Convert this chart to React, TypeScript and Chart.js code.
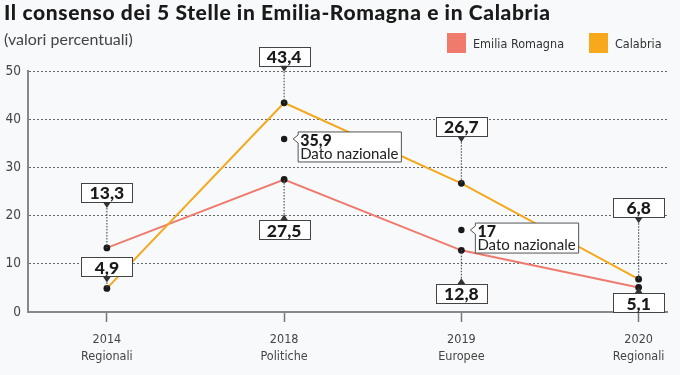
import React, { useEffect, useRef } from 'react';
import { Chart, registerables } from 'chart.js';

Chart.register(...registerables);

// ---- data ----
const years = ['2014', '2018', '2019', '2020'];
const electionTypes = ['Regionali', 'Politiche', 'Europee', 'Regionali'];
const emiliaRomagna = [13.3, 27.5, 12.8, 5.1];
const calabria = [4.9, 43.4, 26.7, 6.8];
const nationalYears = ['2018', '2019'];
const nationalValues = [35.9, 17];
const yTicks = [0, 10, 20, 30, 40, 50];

// ---- label layout (styling only) ----
const emiliaLabelSide = ['above', 'below', 'below', 'below'];
const emiliaLabelGap = [46, 41, 34, 6];
const calabriaLabelSide = ['above', 'above', 'above', 'above'];
const calabriaLabelGap = [12, 37, 47, 62];

const COL_EMILIA = '#ee7b6e';
const COL_CALABRIA = '#f4a81d';
const BG = '#f8f9fb';
const FONT = 'Lato, "Open Sans", sans-serif';
const COND = '"DejaVu Sans Condensed", Roboto, sans-serif';

const fmt = (v: number) => String(v).replace('.', ',');

const labelPlugin = {
  id: 'valueLabels',
  afterDatasetsDraw(chart: any) {
    const ctx = chart.ctx as CanvasRenderingContext2D;
    const xs = chart.scales.x;
    const ys = chart.scales.y;

    const drawValueBox = (idx: number, v: number, side: string, gap: number) => {
      const px = xs.getPixelForValue(idx);
      const py = ys.getPixelForValue(v);
      const w = 51, h = 19, tri = 6;
      ctx.save();
      let boxTop: number, tipY: number, baseY: number;
      if (side === 'above') {
        const boxBottom = py - gap;
        boxTop = boxBottom - h;
        baseY = boxBottom;
        tipY = boxBottom + tri;
      } else {
        boxTop = py + gap;
        baseY = boxTop;
        tipY = boxTop - tri;
      }
      ctx.strokeStyle = '#555';
      ctx.lineWidth = 1.2;
      ctx.setLineDash([1.5, 1.5]);
      ctx.beginPath();
      ctx.moveTo(px, tipY);
      ctx.lineTo(px, py);
      ctx.stroke();
      ctx.setLineDash([]);
      ctx.fillStyle = '#ffffff';
      ctx.strokeStyle = '#444';
      ctx.lineWidth = 1;
      ctx.fillRect(px - w / 2, boxTop, w, h);
      ctx.strokeRect(Math.round(px - w / 2) + 0.5, Math.round(boxTop) + 0.5, w, h);
      ctx.fillStyle = '#333';
      ctx.beginPath();
      ctx.moveTo(px - 4, baseY);
      ctx.lineTo(px + 4, baseY);
      ctx.lineTo(px, tipY);
      ctx.closePath();
      ctx.fill();
      ctx.fillStyle = '#1a1a1a';
      ctx.font = '900 17.5px ' + FONT;
      ctx.textAlign = 'center';
      ctx.textBaseline = 'middle';
      ctx.fillText(fmt(v), px, boxTop + h / 2 + 1);
      ctx.restore();
    };

    emiliaRomagna.forEach((v, i) => drawValueBox(i, v, emiliaLabelSide[i], emiliaLabelGap[i]));
    calabria.forEach((v, i) => drawValueBox(i, v, calabriaLabelSide[i], calabriaLabelGap[i]));

    nationalValues.forEach((v, k) => {
      const idx = years.indexOf(nationalYears[k]);
      const px = xs.getPixelForValue(idx);
      const py = ys.getPixelForValue(v);
      ctx.save();
      ctx.font = '15px ' + FONT;
      const tw = ctx.measureText('Dato nazionale').width;
      const bx = px + 14;
      const top = py - 7;
      const w = tw + 5;
      const h = 30;
      ctx.fillStyle = '#ffffff';
      ctx.strokeStyle = '#555';
      ctx.lineWidth = 1;
      ctx.beginPath();
      ctx.moveTo(bx, top);
      ctx.lineTo(bx + w, top);
      ctx.lineTo(bx + w, top + h);
      ctx.lineTo(bx, top + h);
      ctx.lineTo(bx, py + 4);
      ctx.lineTo(bx - 5, py);
      ctx.lineTo(bx, py - 4);
      ctx.closePath();
      ctx.fill();
      ctx.stroke();
      ctx.fillStyle = '#1a1a1a';
      ctx.textAlign = 'left';
      ctx.textBaseline = 'alphabetic';
      ctx.font = '900 16px ' + FONT;
      ctx.fillText(fmt(v), bx + 2, top + 14);
      ctx.font = '15px ' + FONT;
      ctx.fillStyle = '#222';
      ctx.fillText('Dato nazionale', bx + 2, top + 27);
      ctx.restore();
    });
  },
};

export default function App() {
  const canvasRef = useRef<HTMLCanvasElement | null>(null);

  useEffect(() => {
    document.body.style.margin = '0';
    const canvas = canvasRef.current;
    if (!canvas) return;
    const toPts = (arr: number[]) => arr.map((v, i) => ({ x: i, y: v }));
    const chart = new Chart(canvas, {
      type: 'line',
      data: {
        datasets: [
          {
            label: 'Dato nazionale',
            data: nationalValues.map((v, k) => ({ x: years.indexOf(nationalYears[k]), y: v })),
            showLine: false,
            pointRadius: 3.2,
            pointBackgroundColor: '#1a1a1a',
            pointBorderWidth: 0,
            order: -1,
          },
          {
            label: 'Calabria',
            data: toPts(calabria),
            borderColor: COL_CALABRIA,
            borderWidth: 2,
            tension: 0,
            pointRadius: 3.4,
            pointBackgroundColor: '#1a1a1a',
            pointBorderWidth: 0,
            order: 0,
          },
          {
            label: 'Emilia Romagna',
            data: toPts(emiliaRomagna),
            borderColor: COL_EMILIA,
            borderWidth: 2,
            tension: 0,
            pointRadius: 3.4,
            pointBackgroundColor: '#1a1a1a',
            pointBorderWidth: 0,
            order: 1,
          },
        ],
      },
      options: {
        responsive: false,
        animation: false,
        layout: { padding: { top: 71, right: 13, left: 0, bottom: 0 } },
        plugins: { legend: { display: false }, tooltip: { enabled: false } },
        scales: {
          x: {
            type: 'linear',
            min: -0.445,
            max: 3.16,
            afterBuildTicks: (scale: any) => {
              scale.ticks = years.map((_, i) => ({ value: i }));
            },
            afterFit: (scale: any) => {
              scale.height = 63;
            },
            ticks: {
              callback: (value: any) => [years[value], electionTypes[value]],
              color: '#444',
              font: { family: COND, size: 12.5, lineHeight: 1.35 },
              padding: 9,
              maxRotation: 0,
              autoSkip: false,
            },
            grid: {
              drawOnChartArea: false,
              drawTicks: true,
              tickLength: 10,
              tickColor: '#777',
              tickWidth: 1.5,
            },
            border: { display: true, color: '#888', width: 2 },
          },
          y: {
            min: 0,
            max: 50,
            afterBuildTicks: (scale: any) => {
              scale.ticks = yTicks.map((v) => ({ value: v }));
            },
            afterFit: (scale: any) => {
              scale.width = 28;
            },
            ticks: {
              color: '#444',
              font: { family: COND, size: 13.5 },
              padding: 7,
            },
            grid: {
              color: '#666',
              lineWidth: 1,
              drawTicks: false,
            },
            border: { display: true, color: '#888', width: 2, dash: [2, 2] },
          },
        },
      },
      plugins: [labelPlugin],
    } as any);
    return () => chart.destroy();
  }, []);

  return (
    <div style={{ position: 'relative', width: 680, height: 375, background: BG, overflow: 'hidden' }}>
      <canvas ref={canvasRef} width={680} height={375} style={{ position: 'absolute', left: 0, top: 0, display: 'block' }} />
      <div
        style={{
          position: 'absolute', left: 4, top: 2, font: `900 21px ${FONT}`, lineHeight: '20px',
          color: '#1a1a1a', whiteSpace: 'nowrap', letterSpacing: '0.62px',
        }}
      >
        Il consenso dei 5 Stelle in Emilia-Romagna e in Calabria
      </div>
      <div
        style={{
          position: 'absolute', left: 4, top: 31, font: `400 16px ${FONT}`, lineHeight: '16px',
          color: '#444', whiteSpace: 'nowrap',
        }}
      >
        (valori percentuali)
      </div>
      <div style={{ position: 'absolute', left: 447, top: 33, display: 'flex', alignItems: 'center', font: `400 12.5px ${COND}`, color: '#333' }}>
        <span style={{ display: 'inline-block', width: 19, height: 20, background: '#f07a6c' }} />
        <span style={{ marginLeft: 7, width: 116 }}>Emilia Romagna</span>
        <span style={{ display: 'inline-block', width: 19, height: 20, background: '#f7a81b' }} />
        <span style={{ marginLeft: 7 }}>Calabria</span>
      </div>
    </div>
  );
}
